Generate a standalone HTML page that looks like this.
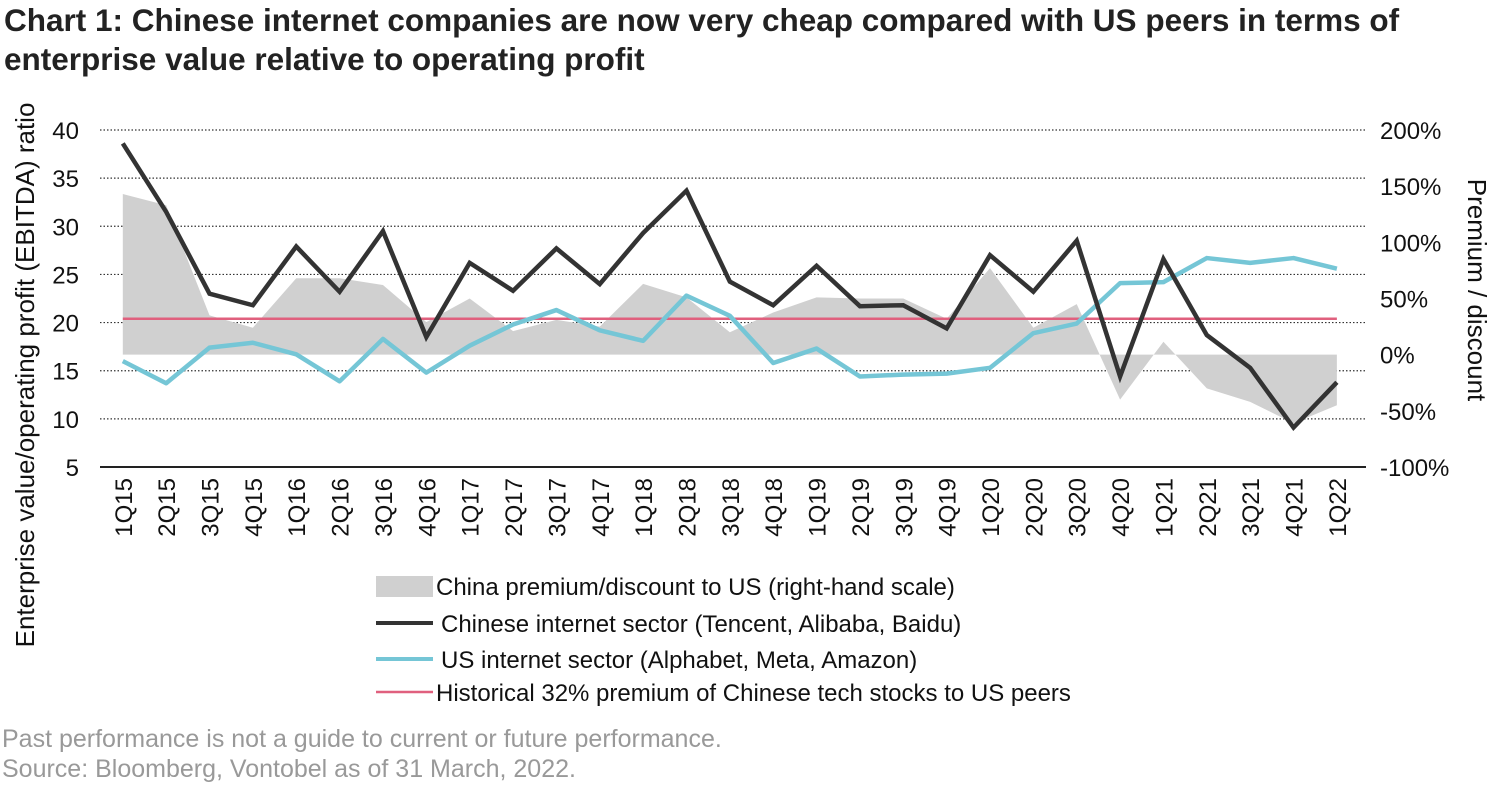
<!DOCTYPE html>
<html><head><meta charset="utf-8"><style>
body{margin:0;background:#fff;width:1500px;height:785px;overflow:hidden;font-family:"Liberation Sans",Arial,sans-serif}
</style></head><body>
<svg width="1500" height="785" xmlns="http://www.w3.org/2000/svg" font-family="Liberation Sans, Arial, sans-serif">
<text x="4" y="31" font-size="31.5" font-weight="bold" fill="#222">Chart 1: Chinese internet companies are now very cheap compared with US peers in terms of</text>
<text x="4" y="70" font-size="31.5" font-weight="bold" fill="#222">enterprise value relative to operating profit</text>
<g id="grid"></g>
<g id="area"></g>
<g id="lines"></g>
<g id="axes"></g>
<text transform="translate(34,375) rotate(-90)" text-anchor="middle" font-size="26" fill="#111">Enterprise value/operating profit (EBITDA) ratio</text>
<text transform="translate(1468,290) rotate(90)" text-anchor="middle" font-size="26" fill="#111">Premium / discount</text>
<g font-size="24" fill="#111">
<rect x="376" y="576" width="57" height="21" fill="#d0d0d0"/>
<text x="436" y="595">China premium/discount to US (right-hand scale)</text>
<line x1="376" y1="623" x2="433" y2="623" stroke="#333" stroke-width="4"/>
<text x="441" y="632">Chinese internet sector (Tencent, Alibaba, Baidu)</text>
<line x1="376" y1="659" x2="433" y2="659" stroke="#75c6d6" stroke-width="4"/>
<text x="441" y="668">US internet sector (Alphabet, Meta, Amazon)</text>
<line x1="376" y1="692" x2="433" y2="692" stroke="#e0607e" stroke-width="2.5"/>
<text x="436" y="701">Historical 32% premium of Chinese tech stocks to US peers</text>
</g>
<text x="2" y="747" font-size="25" fill="#999">Past performance is not a guide to current or future performance.</text>
<text x="2" y="777" font-size="25" fill="#999">Source: Bloomberg, Vontobel as of 31 March, 2022.</text>
</svg>
<script>
const categories=["1Q15","2Q15","3Q15","4Q15","1Q16","2Q16","3Q16","4Q16","1Q17","2Q17","3Q17","4Q17","1Q18","2Q18","3Q18","4Q18","1Q19","2Q19","3Q19","4Q19","1Q20","2Q20","3Q20","4Q20","1Q21","2Q21","3Q21","4Q21","1Q22"];
const chinaValues=[38.6,31.5,23.0,21.8,27.9,23.2,29.5,18.5,26.2,23.3,27.7,24.0,29.3,33.7,24.25,21.8,25.9,21.7,21.8,19.4,27.0,23.2,28.5,14.4,26.6,18.7,15.3,9.1,13.8];
const usValues=[16.0,13.7,17.4,17.9,16.7,13.9,18.3,14.8,17.6,19.8,21.3,19.2,18.1,22.8,20.7,15.8,17.3,14.4,14.6,14.7,15.3,18.9,19.9,24.1,24.2,26.7,26.2,26.7,25.6];
const premiumValues=[143,133,35,24,68,68,62,29,50,21,31,25,63,51,20,37.5,51,50,50,32,77,24,45,-40,11.5,-30,-42,-61,-45];
const historicalPremium=32;
const leftTicks=[5,10,15,20,25,30,35,40];
const rightTicks=["-100%","-50%","0%","50%","100%","150%","200%"];
const rightTickValues=[-100,-50,0,50,100,150,200];

const NS="http://www.w3.org/2000/svg";
const x0=122.8,dx=43.36,yTop=130,yBot=467,plotL=100,plotR=1366;
const xs=i=>x0+i*dx;
const yL=v=>yBot-(v-5)/35*(yBot-yTop);
const yR=v=>yBot-(v+100)/300*(yBot-yTop);
function mk(tag,attrs,parent){const e=document.createElementNS(NS,tag);for(const k in attrs)e.setAttribute(k,attrs[k]);parent.appendChild(e);return e;}
const grid=document.getElementById('grid'),area=document.getElementById('area'),lines=document.getElementById('lines'),axes=document.getElementById('axes');
leftTicks.forEach(v=>{
 if(v>5){const l=mk('line',{x1:plotL,x2:plotR,y1:yL(v),y2:yL(v),stroke:'#333','stroke-width':1.2,'stroke-dasharray':'1.5,2'},grid);
 
 }
 const t=mk('text',{x:79,y:yL(v)+9,'text-anchor':'end','font-size':24,fill:'#111'},axes);t.textContent=v;
 
 
});
rightTickValues.forEach((v,i)=>{
 const t=mk('text',{x:1380,y:yR(v)+9,'font-size':24,fill:'#111'},axes);t.textContent=rightTicks[i];
 
 
});
const base=yR(0);
let d=`M${xs(0)},${base}`;premiumValues.forEach((v,i)=>{d+=` L${xs(i)},${yR(v)}`;});d+=` L${xs(premiumValues.length-1)},${base} Z`;
const a=mk('path',{d:d,fill:'#d0d0d0'},area);


const hl=mk('line',{x1:xs(0),x2:xs(categories.length-1),y1:yR(historicalPremium),y2:yR(historicalPremium),stroke:'#e0607e','stroke-width':2.5},lines);


const us=mk('polyline',{points:usValues.map((v,i)=>xs(i)+','+yL(v)).join(' '),fill:'none',stroke:'#75c6d6','stroke-width':4.5,'stroke-linejoin':'round'},lines);


const cn=mk('polyline',{points:chinaValues.map((v,i)=>xs(i)+','+yL(v)).join(' '),fill:'none',stroke:'#333','stroke-width':4.5,'stroke-linejoin':'miter'},lines);


const ax=mk('line',{x1:plotL,x2:plotR,y1:yBot,y2:yBot,stroke:'#222','stroke-width':2},axes);


categories.forEach((c,i)=>{
 const t=mk('text',{transform:`translate(${xs(i)+9},478) rotate(-90)`,'text-anchor':'end','font-size':24,fill:'#111'},axes);t.textContent=c;
 
 
});
</script>
</body></html>
